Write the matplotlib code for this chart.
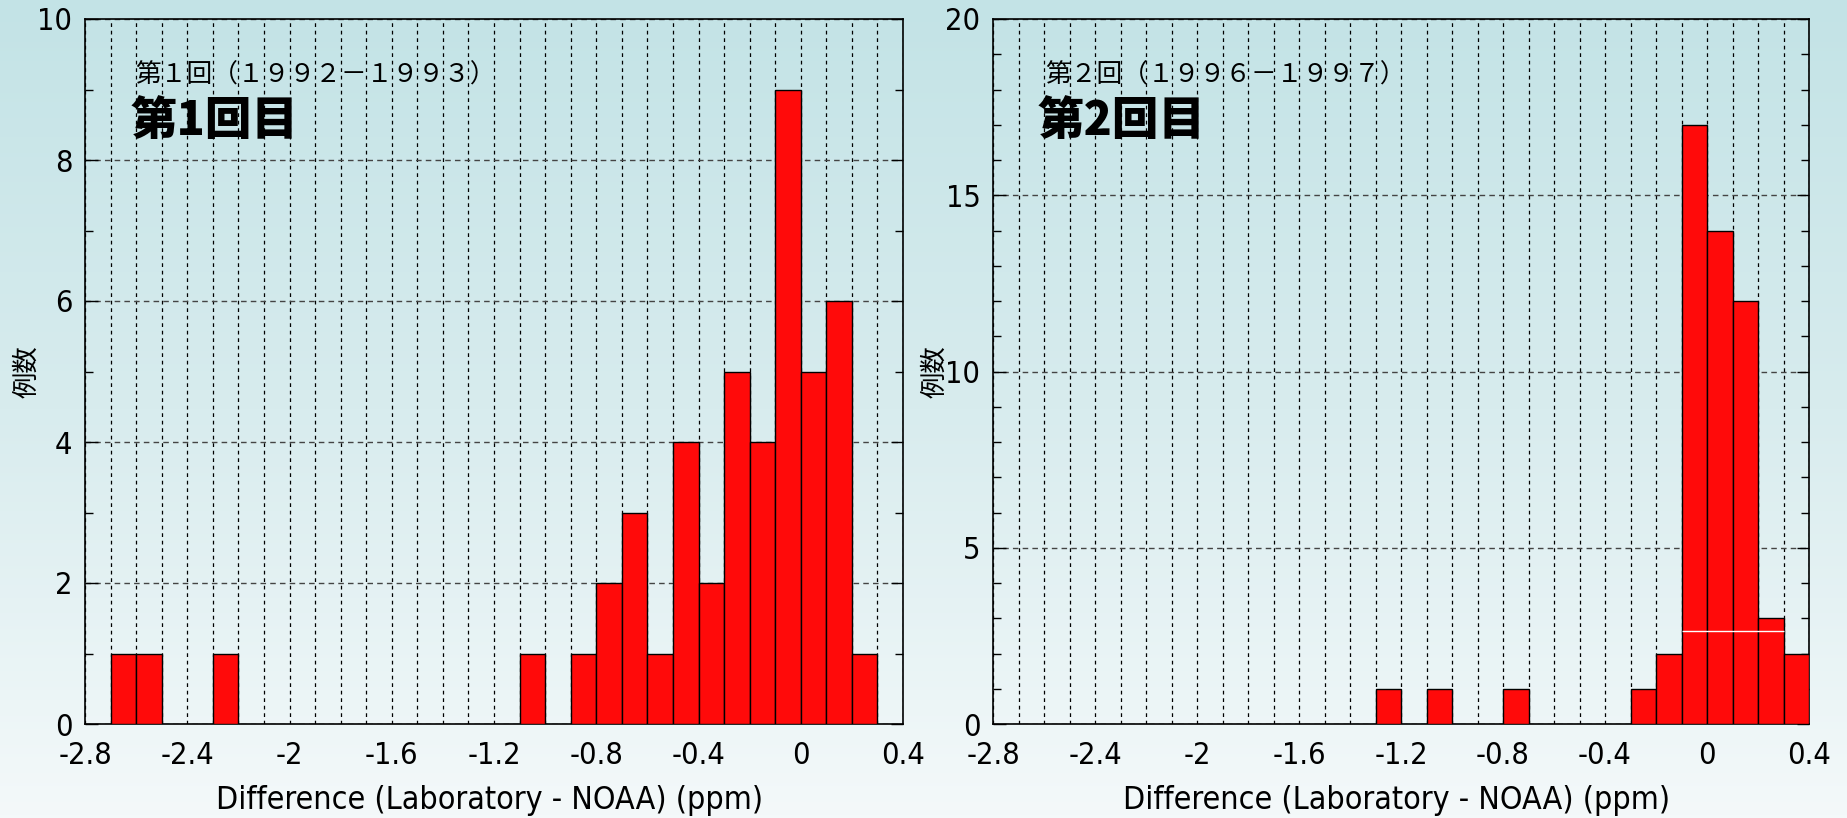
import numpy as np
import matplotlib
matplotlib.use('Agg')
import matplotlib.pyplot as plt
from matplotlib import font_manager
from matplotlib.colors import LinearSegmentedColormap
from matplotlib.ticker import MultipleLocator

# Left edges of the 0.1 ppm bins that hold cases, and the number of cases
bins_1 = [-2.7, -2.6, -2.3, -1.1, -0.9, -0.8, -0.7, -0.6, -0.5, -0.4,
          -0.3, -0.2, -0.1, 0.0, 0.1, 0.2]
counts_1 = [1, 1, 1, 1, 1, 2, 3, 1, 4, 2, 5, 4, 9, 5, 6, 1]

bins_2 = [-1.3, -1.1, -0.8, -0.3, -0.2, -0.1, 0.0, 0.1, 0.2, 0.3]
counts_2 = [1, 1, 1, 1, 2, 17, 14, 12, 3, 2]

x_ticks = [-2.8, -2.4, -2.0, -1.6, -1.2, -0.8, -0.4, 0.0, 0.4]
x_tick_labels = ['-2.8', '-2.4', '-2', '-1.6', '-1.2', '-0.8', '-0.4', '0', '0.4']

titles_small = ['第１回（１９９２－１９９３）', '第２回（１９９６－１９９７）']
titles_big = ['第1回目', '第2回目']
x_label = 'Difference (Laboratory - NOAA) (ppm)'
y_label = '例数'


def pick_fonts(names):
    have = {f.name for f in font_manager.fontManager.ttflist}
    return [n for n in names if n in have] + ['DejaVu Sans']


narrow = pick_fonts(['Liberation Sans Narrow'])
cjk = pick_fonts(['Noto Sans CJK JP'])

plt.rcParams['axes.unicode_minus'] = False

W, H = 1847, 818
fig = plt.figure(figsize=(W / 100, H / 100), dpi=100)

# pale teal to white backdrop
bg = fig.add_axes([0, 0, 1, 1], zorder=-10)
cmap = LinearSegmentedColormap.from_list('bg', ['#c3e3e6', '#d8ecee', '#f4f9fa'])
bg.imshow(np.linspace(0, 1, 256)[:, None], cmap=cmap, aspect='auto',
          extent=[0, 1, 0, 1])
bg.axis('off')

ax1 = fig.add_axes([85 / W, 94 / H, 818 / W, 705 / H])
ax2 = fig.add_axes([993 / W, 94 / H, 816 / W, 705 / H])


def draw_panel(ax, bins, counts, ymax, ymajor, small_title, big_title,
               title_x, big_x):
    ax.set_facecolor('none')
    ax.bar(bins, counts, width=0.1, align='edge', color='#ff0a0a',
           edgecolor='black', linewidth=1.0, zorder=3)
    ax.set_xlim(-2.8, 0.4)
    ax.set_ylim(0, ymax)
    ax.set_xticks(x_ticks)
    ax.set_xticklabels(x_tick_labels)
    ax.xaxis.set_minor_locator(MultipleLocator(0.1))
    ax.yaxis.set_major_locator(MultipleLocator(ymajor))
    ax.yaxis.set_minor_locator(MultipleLocator(1))

    ax.grid(axis='x', which='both', color='black', linestyle=(0, (3, 3)),
            linewidth=0.9)
    ax.grid(axis='y', which='major', color='#444444', linestyle=(0, (4, 3)),
            linewidth=1.0)
    ax.set_axisbelow(True)

    ax.tick_params(axis='x', which='both', length=0, pad=12, labelsize=22)
    ax.tick_params(axis='y', which='both', direction='in', left=True,
                   right=True, labelsize=22, pad=9, width=1.0)
    ax.tick_params(axis='y', which='major', length=9)
    ax.tick_params(axis='y', which='minor', length=6)
    for lab in ax.get_xticklabels() + ax.get_yticklabels():
        lab.set_family(narrow)
        lab.set_stretch('condensed')
    for sp in ax.spines.values():
        sp.set_linewidth(1.2)
        sp.set_color('black')

    ax.set_xlabel(x_label, fontsize=23, family=narrow, stretch='condensed',
                  va='center')
    ax.xaxis.set_label_coords(0.494, -0.109)
    ax.set_ylabel(y_label, fontsize=19, family=cjk, va='center')
    ax.yaxis.set_label_coords(-0.071, 0.5)

    ax.text(title_x, 0.92, small_title, transform=ax.transAxes, fontsize=18.5,
            family=cjk, va='center', ha='left')
    ax.text(big_x, 0.855, big_title, transform=ax.transAxes, fontsize=33.5,
            family=cjk, fontweight='black', va='center', ha='left')


draw_panel(ax1, bins_1, counts_1, 10, 2, titles_small[0], titles_big[0],
           0.061, 0.056)
draw_panel(ax2, bins_2, counts_2, 20, 5, titles_small[1], titles_big[1],
           0.064, 0.055)

# thin white rule across the central bars of the second survey
ax2.hlines(2.64, -0.1, 0.3, colors='white', linewidth=1.0, zorder=4)

fig.savefig('out.png', dpi=100)
